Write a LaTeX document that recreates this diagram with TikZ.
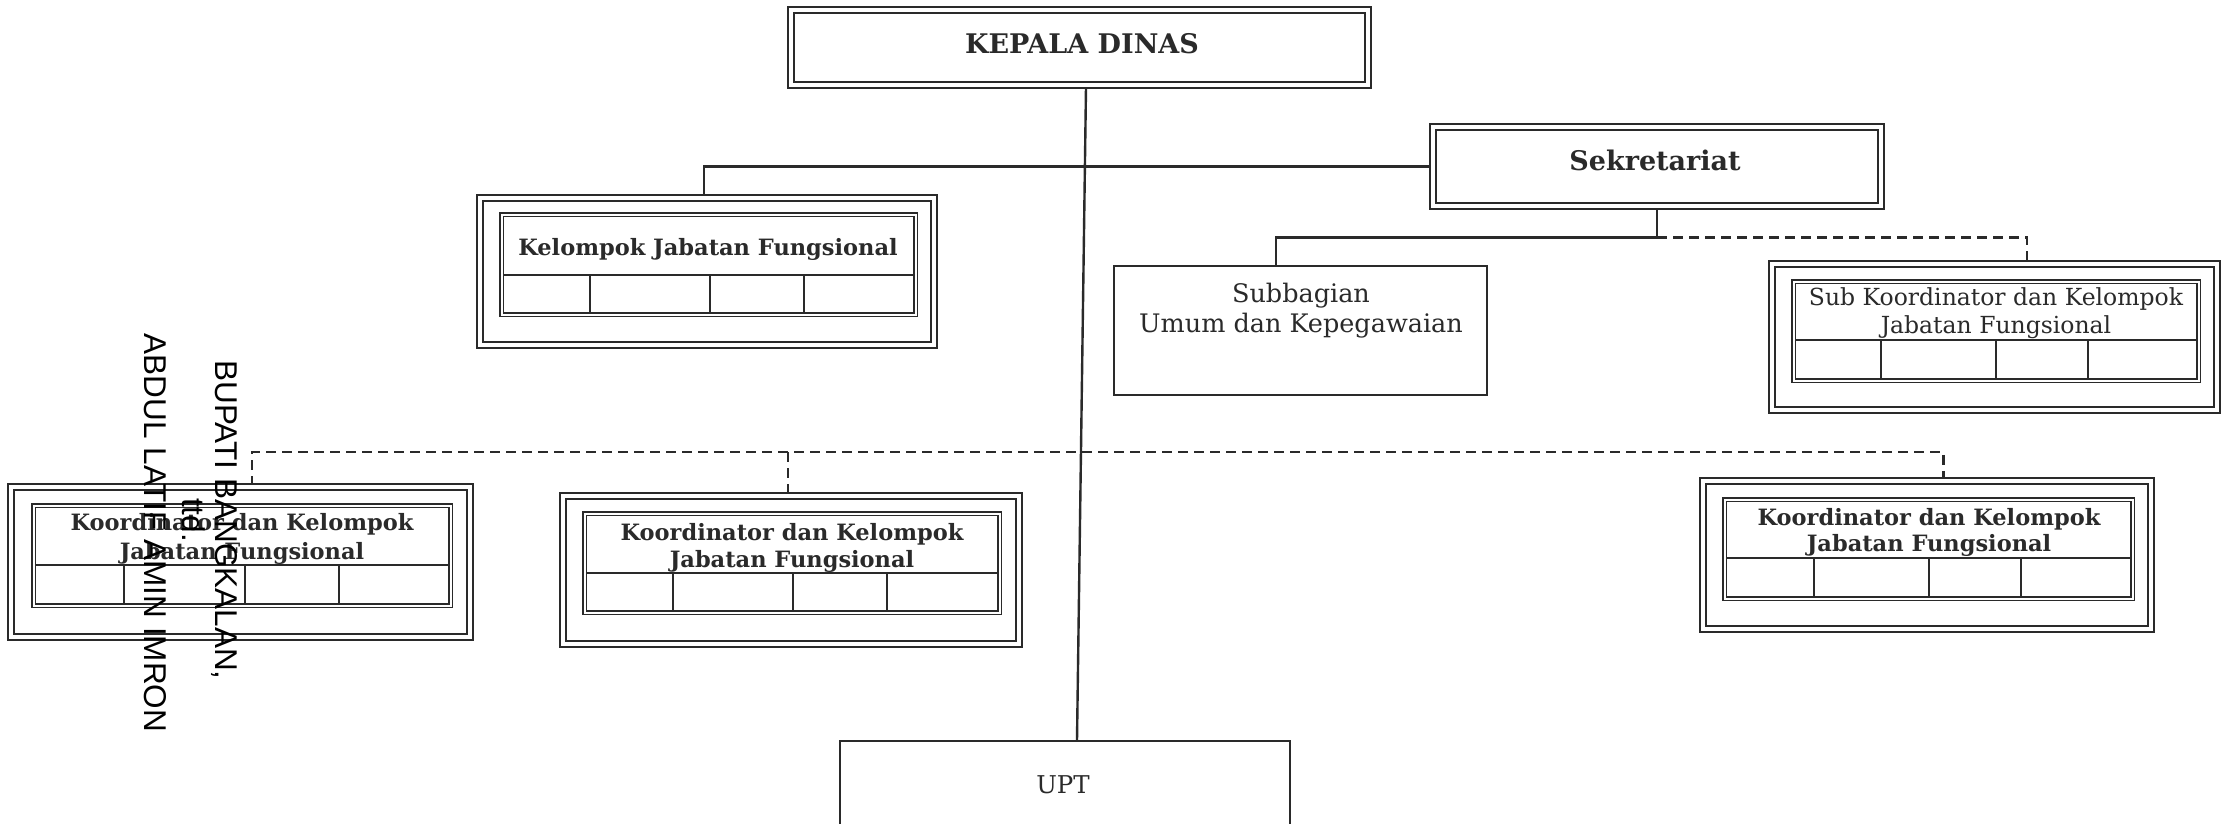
\documentclass[tikz,border=0pt]{standalone}
\usepackage{fontspec}
\setmainfont{DejaVu Serif}
\newfontfamily\sanslabel{Liberation Sans}
\usetikzlibrary{calc}
\pgfdeclarelayer{background}
\pgfdeclarelayer{conn}
\pgfsetlayers{background,conn,main}
\definecolor{ink}{HTML}{2A2A2A}
\newcommand{\jtable}[8]{%
  \draw[tabline] (#1,#5) -- (#3,#5);
  \foreach \c in {#6,#7,#8} \draw[tabline] (\c,#5) -- (\c,#4);
  \draw[innerbox] (#1,#2) rectangle (#3,#4);
}
\begin{document}
\begin{tikzpicture}[x=1pt,y=-1pt,
  outerbox/.style={draw=ink, line width=2.8pt, double=white, double distance=3.2pt, rectangle, inner sep=0pt},
  innerbox/.style={draw=ink, line width=1.9pt, double=white, double distance=2pt},
  singlebox/.style={draw=ink, line width=2.4pt, rectangle, inner sep=0pt},
  tabline/.style={draw=ink, line width=1.9pt},
  cline/.style={draw=ink, line width=2.4pt},
  dline/.style={draw=ink, line width=2.4pt, dash pattern=on 10pt off 6pt},
  bigbold/.style={text=ink, font=\bfseries\fontsize{27}{32}\selectfont, anchor=base, inner sep=0pt},
  midbold/.style={text=ink, font=\bfseries\fontsize{22.5}{27}\selectfont, anchor=base, inner sep=0pt},
  koordbold/.style={text=ink, font=\bfseries\fontsize{22.5}{27}\selectfont, anchor=base, inner sep=0pt},
  regtxt/.style={text=ink, font=\fontsize{25.5}{30}\selectfont, anchor=base, inner sep=0pt},
  upttxt/.style={text=ink, font=\fontsize{24.5}{30}\selectfont, anchor=base, inner sep=0pt},
  smalltxt/.style={text=ink, font=\fontsize{23.5}{28}\selectfont, anchor=base, inner sep=0pt},
  vlabel/.style={text=black, font=\sanslabel\fontsize{31.5}{36}\selectfont, rotate=-90, anchor=base, inner sep=0pt}
]
\useasboundingbox (0,0) rectangle (2229,823);
\begin{pgfonlayer}{background}
\fill[white] (0,0) rectangle (2229,823);
\end{pgfonlayer}
\clip (0,0) rectangle (2229,823);

% KEPALA DINAS
\node[outerbox, minimum width=577pt, minimum height=75pt] (kd) at (1079.5,47.5) {};
\node[bigbold] (kdt) at (1082,53) {KEPALA DINAS};

% Sekretariat
\node[outerbox, minimum width=448pt, minimum height=79pt] (sek) at (1657,166.5) {};
\node[bigbold] (sekt) at (1655,170) {Sekretariat};

% Kelompok Jabatan Fungsional
\node[outerbox, minimum width=454pt, minimum height=147pt] (kjf) at (707,271.5) {};
\jtable{501.5}{214.5}{915.5}{314.5}{275}{590}{710}{804}
\node[midbold] (kjft) at (708,255) {Kelompok Jabatan Fungsional};

% Subbagian
\node[singlebox, minimum width=373pt, minimum height=129pt] (sub) at (1300.5,330.5) {};
\node[regtxt] (subt1) at (1301,302) {Subbagian};
\node[regtxt] (subt2) at (1301,332) {Umum dan Kepegawaian};

% Sub Koordinator
\node[outerbox, minimum width=445pt, minimum height=146pt] (skj) at (1994.5,337) {};
\jtable{1793.5}{281.5}{2198.5}{380.5}{340}{1881}{1996}{2088}
\node[smalltxt] (skjt1) at (1996,305) {Sub Koordinator dan Kelompok};
\node[smalltxt] (skjt2) at (1996,333) {Jabatan Fungsional};

% Koordinator left
\node[outerbox, minimum width=459pt, minimum height=150pt] (k1) at (240.5,562) {};
\jtable{33.5}{505.5}{450.5}{605.5}{565}{124}{245}{339}
\node[koordbold] (k1t1) at (242,530) {Koordinator dan Kelompok};
\node[koordbold] (k1t2) at (242,559) {Jabatan Fungsional};

% Koordinator middle
\node[outerbox, minimum width=456pt, minimum height=148pt] (k2) at (791,570) {};
\jtable{584.5}{513.5}{999.5}{612.5}{573}{673}{793}{887}
\node[koordbold] (k2t1) at (792,540) {Koordinator dan Kelompok};
\node[koordbold] (k2t2) at (792,567) {Jabatan Fungsional};

% Koordinator right
\node[outerbox, minimum width=448pt, minimum height=148pt] (k3) at (1927,555) {};
\jtable{1724.5}{499.5}{2132.5}{598.5}{558}{1814}{1929}{2021}
\node[koordbold] (k3t1) at (1929,525) {Koordinator dan Kelompok};
\node[koordbold] (k3t2) at (1929,551) {Jabatan Fungsional};

% UPT
\node[singlebox, minimum width=450pt, minimum height=118pt] (upt) at (1065,800) {};
\node[upttxt] (uptt) at (1063,793) {UPT};

% connectors
\begin{pgfonlayer}{conn}
\draw[cline] ([xshift=6.5pt]kd.south) -- ([xshift=12pt]upt.north);
\draw[cline] (sek.west) -| ([xshift=-3pt]kjf.north);
\coordinate (j1) at ($(sek.south)+(0,30)$);
\draw[cline] (sek.south) -- (j1) -| ([xshift=-24.5pt]sub.north);
\draw[dline] (j1) -| ([xshift=32.5pt]skj.north);
\coordinate (bus) at (0,452);
\coordinate (k1top) at ([xshift=11.5pt]k1.north);
\coordinate (k2top) at ([xshift=-3pt]k2.north);
\coordinate (k3top) at ([xshift=16.5pt]k3.north);
\draw[dline] (k1top) -- (k1top |- bus) -- (k3top |- bus) -- (k3top);
\draw[dline] (k2top |- bus) -- (k2top);
\end{pgfonlayer}

% signature texts
\node[vlabel] (bup) at (215,520) {BUPATI BANGKALAN,};
\node[vlabel] (ttd) at (182,520) {ttd.};
\node[vlabel] (name) at (144,533) {ABDUL LATIF AMIN IMRON};
\end{tikzpicture}
\end{document}
